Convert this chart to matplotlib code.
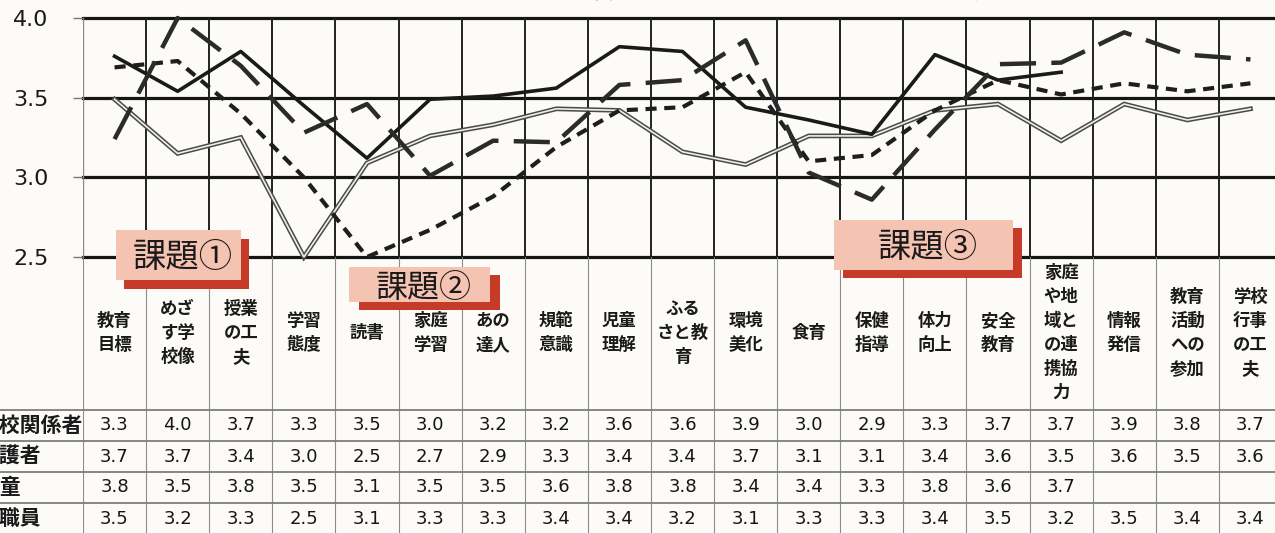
import numpy as np
import matplotlib
matplotlib.use("Agg")
import matplotlib.pyplot as plt
from matplotlib.patches import Rectangle

plt.rcParams['font.family'] = ['Noto Sans CJK JP', 'DejaVu Sans']
plt.rcParams['lines.scale_dashes'] = False

# ---------------- data ----------------
categories = ["教育\n目標", "めざ\nす学\n校像", "授業\nの工\n夫", "学習\n態度", "読書",
              "家庭\n学習", "あの\n達人", "規範\n意識", "児童\n理解", "ふる\nさと教\n育",
              "環境\n美化", "食育", "保健\n指導", "体力\n向上", "安全\n教育",
              "家庭\nや地\n域と\nの連\n携協\n力", "情報\n発信", "教育\n活動\nへの\n参加",
              "学校\n行事\nの工\n夫"]
series_names = ["学校関係者", "保護者", "児童", "教職員"]

gakko = [3.24, 4.00, 3.70, 3.28, 3.46, 3.01, 3.23, 3.22, 3.58, 3.61,
         3.86, 3.03, 2.86, 3.30, 3.71, 3.72, 3.91, 3.77, 3.74]
hogo = [3.69, 3.73, 3.40, 3.00, 2.50, 2.67, 2.88, 3.19, 3.42, 3.44,
        3.66, 3.10, 3.14, 3.42, 3.61, 3.52, 3.59, 3.54, 3.59]
jido = [3.76, 3.54, 3.79, 3.45, 3.12, 3.49, 3.51, 3.56, 3.82, 3.79,
        3.44, 3.36, 3.27, 3.77, 3.61, 3.66, np.nan, np.nan, np.nan]
kyoshoku = [3.49, 3.15, 3.25, 2.50, 3.09, 3.26, 3.33, 3.43, 3.42, 3.16,
            3.08, 3.26, 3.26, 3.42, 3.46, 3.23, 3.46, 3.36, 3.43]

t_gakko = ["3.3", "4.0", "3.7", "3.3", "3.5", "3.0", "3.2", "3.2", "3.6", "3.6",
           "3.9", "3.0", "2.9", "3.3", "3.7", "3.7", "3.9", "3.8", "3.7"]
t_hogo = ["3.7", "3.7", "3.4", "3.0", "2.5", "2.7", "2.9", "3.3", "3.4", "3.4",
          "3.7", "3.1", "3.1", "3.4", "3.6", "3.5", "3.6", "3.5", "3.6"]
t_jido = ["3.8", "3.5", "3.8", "3.5", "3.1", "3.5", "3.5", "3.6", "3.8", "3.8",
          "3.4", "3.4", "3.3", "3.8", "3.6", "3.7", "", "", ""]
t_kyoshoku = ["3.5", "3.2", "3.3", "2.5", "3.1", "3.3", "3.3", "3.4", "3.4", "3.2",
              "3.1", "3.3", "3.3", "3.4", "3.5", "3.2", "3.5", "3.4", "3.4"]

yticks = [2.5, 3.0, 3.5, 4.0]
ytick_labels = ["2.5", "3.0", "3.5", "4.0"]
kadai_labels = ["課題①", "課題②", "課題③"]

# ---------------- layout ----------------
W, H = 1275, 533
fig = plt.figure(figsize=(W / 100, H / 100), dpi=100)
BG = '#fcfbf8'
fig.patch.set_facecolor(BG)


def fx(px):
    return px / W


def fy(py):
    return 1 - py / H


L, R, T, B = 83, 1282, 18, 257
n = len(categories)
xs = np.arange(n)

ax = fig.add_axes([fx(L), fy(B), (R - L) / W, (B - T) / H])
ax.set_xlim(-0.5, n - 0.5)
ax.set_ylim(2.5, 4.0)
ax.patch.set_alpha(0)
for s in ax.spines.values():
    s.set_visible(False)
ax.set_xticks([])
ax.set_yticks(yticks)
ax.set_yticklabels(ytick_labels, fontsize=16, family='DejaVu Sans', color='#1a1a1a')
ax.tick_params(axis='y', length=7, width=1, color='#777', pad=18)

for y in yticks:
    ax.axhline(y, color='#151515', lw=2.3, zorder=1, clip_on=False)
for k in range(n + 1):
    if k == 0:
        ax.axvline(k - 0.5, color='#8a8a8a', lw=1.0, zorder=1)
    else:
        ax.axvline(k - 0.5, color='#222222', lw=1.4, zorder=1)

# series lines
ax.plot(xs, kyoshoku, color='#4a4a4a', lw=3.4, zorder=3, clip_on=False,
        solid_joinstyle='miter')
ax.plot(xs, kyoshoku, color='#efefec', lw=1.2, zorder=3.1, clip_on=False,
        solid_joinstyle='miter')
ax.plot(xs, jido, color='#1a1a1a', lw=2.6, zorder=4, clip_on=False)
ax.plot(xs, hogo, color='#1e1e1e', lw=3.0, dashes=(8, 5.5), zorder=5, clip_on=False)
ax.plot(xs, gakko, color='#2b2b2b', lw=3.2, dashes=(26, 11), zorder=6, clip_on=False)

# ---------------- label / table area ----------------
axt = fig.add_axes([fx(L), 0, (R - L) / W, (H - B) / H])
axt.set_xlim(-0.5, n - 0.5)
axt.set_ylim(H - B, 0)
axt.axis('off')
axt.patch.set_alpha(0)
axt.vlines(np.arange(n + 1) - 0.5, 0, H - B, color='#8c8c8c', lw=0.8)

for i, lab in enumerate(categories):
    axt.text(i, 76, lab, ha='center', va='center', fontsize=12.5,
             fontweight='bold', linespacing=1.42, color='#1a1a1a')

row_top = 153
row_h = 31
rows = [t_gakko, t_hogo, t_jido, t_kyoshoku]
for r, vals in enumerate(rows):
    yc = row_top + row_h * (r + 0.5)
    for i, v in enumerate(vals):
        axt.text(i, yc, v, ha='center', va='center', fontsize=13,
                 family='DejaVu Sans', color='#151515')

# ---------------- overlay (pixel coords) ----------------
ov = fig.add_axes([0, 0, 1, 1], zorder=10)
ov.set_xlim(0, W)
ov.set_ylim(H, 0)
ov.axis('off')
ov.patch.set_alpha(0)

# table row separators
for r in range(len(rows)):
    yline = B + row_top + row_h * r
    ov.plot([0, W], [yline, yline], color='#7d7d7d', lw=1.3)

# row labels (first character cut by the crop)
for r, name in enumerate(series_names):
    yc = B + row_top + row_h * (r + 0.5)
    ov.text(-21, yc, name, ha='left', va='center', fontsize=15,
            fontweight='bold', color='#1a1a1a', clip_on=False)

# title legend (only the bottom edge is visible)
for name, cx in zip(series_names, [380, 600, 783, 938]):
    ov.text(cx, 5, name, ha='center', va='bottom', fontsize=20, color='#111',
            clip_on=False)

# 課題 boxes
boxes = [(116, 230, 241, 280, 8, 9, 24),
         (349, 267, 490, 302, 10, 8, 23),
         (834, 220, 1013, 270, 9, 8, 24)]
for (x0, y0, x1, y1, dx, dy, fs), lab in zip(boxes, kadai_labels):
    ov.add_patch(Rectangle((x0 + dx, y0 + dy), x1 - x0, y1 - y0,
                           facecolor='#c63b27', edgecolor='none', zorder=2))
    ov.add_patch(Rectangle((x0, y0), x1 - x0, y1 - y0,
                           facecolor='#f4c3b1', edgecolor='none', zorder=3))
    ov.text((x0 + x1) / 2 + 4, (y0 + y1) / 2 + 3, lab, ha='center', va='center',
            fontsize=fs, color='#1a1a1a', zorder=4)

fig.savefig('out.png', dpi=100, facecolor=BG)
